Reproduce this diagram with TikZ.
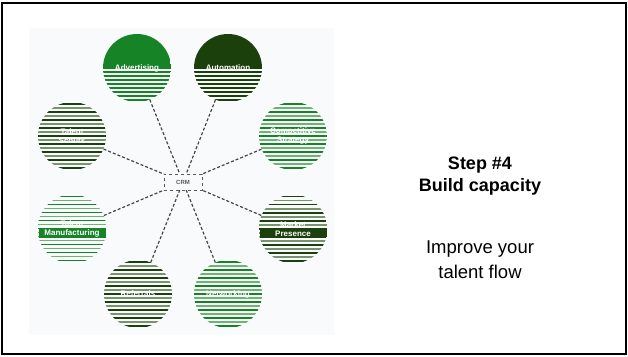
\documentclass[tikz,border=0pt]{standalone}
\usepackage{fontspec}
\setmainfont{Liberation Sans}
\setsansfont{Liberation Sans}
\definecolor{gbright}{RGB}{22,132,38}
\definecolor{gpale}{RGB}{112,178,116}
\definecolor{gdark}{RGB}{28,64,12}
\definecolor{gdpale}{RGB}{122,146,112}
\definecolor{panel}{RGB}{249,250,252}
\begin{document}
\begin{tikzpicture}[x=1pt, y=-1pt,
    disc/.style={circle, minimum size=68pt, inner sep=0pt, text=white, align=center,
      font=\fontsize{8}{9}\selectfont\bfseries},
    striped/.style 2 args={disc, path picture={
      \foreach \k in {2,10,...,66}
        \draw[line width=1.6pt, #1] ([yshift=-\k pt]path picture bounding box.north west) -- ([yshift=-\k pt]path picture bounding box.north east);
      \foreach \k in {6,14,...,66}
        \draw[line width=1.6pt, #2] ([yshift=-\k pt]path picture bounding box.north west) -- ([yshift=-\k pt]path picture bounding box.north east);
    }},
    halfdisc/.style={disc, path picture={
      \fill[#1] (path picture bounding box.north west) rectangle ([yshift=-35pt]path picture bounding box.north east);
      \foreach \k in {38,42,...,66}
        \draw[line width=1.6pt, #1] ([yshift=-\k pt]path picture bounding box.north west) -- ([yshift=-\k pt]path picture bounding box.north east);
    }},
    hub/.style={rectangle, draw=gray!70!black, dashed, minimum width=38pt, minimum height=16pt,
      font=\fontsize{6}{7}\selectfont\bfseries, text=gray!70!black},
    link/.style={draw=gray!55!black, line width=1.2pt, dash pattern=on 3pt off 2pt},
    head/.style={font=\fontsize{18}{22}\selectfont\bfseries},
    body/.style={font=\fontsize{18.5}{22}\selectfont}
]
\useasboundingbox (0,0) rectangle (628,356);
\draw[line width=2pt] (2,3) rectangle (626,354);
\fill[panel] (29,28) rectangle (334,335);

\node[hub] (ctr) at (183,182) {CRM};

\node[halfdisc=gbright] (adv) at (137,68) {Advertising};
\node[halfdisc=gdark] (aut) at (228,68) {Automation};
\node[striped={gdark}{gdpale}] (tl) at (72,136) {Talent\\Scouts};
\node[striped={gbright}{gpale}] (tr) at (293,136) {Competitive\\Strategy};
\node[striped={gbright}{gpale}] (lm) at (72,229)
  {Talent\\\setlength{\fboxsep}{0.5pt}\colorbox{gbright}{\makebox[66pt]{Manufacturing}}};
\node[striped={gdark}{gdpale}] (rm) at (293,229)
  {Market\\\setlength{\fboxsep}{0.5pt}\colorbox{gdark}{\makebox[66pt]{Presence}}};
\node[striped={gdark}{gdpale}] (bl) at (138,294) {Referrals};
\node[striped={gbright}{gpale}] (br) at (228,294) {Networking};

\foreach \n in {adv,aut,tl,tr,lm,rm,bl,br}
  \draw[link] (\n) -- (ctr);

\node[head] (step) at (480,165) {Step \#4};
\node[head] (build) at (480,187) {Build capacity};
\node[body] (impr) at (480,249) {Improve your};
\node[body] (flow) at (480,272) {talent flow};

\end{tikzpicture}
\end{document}
